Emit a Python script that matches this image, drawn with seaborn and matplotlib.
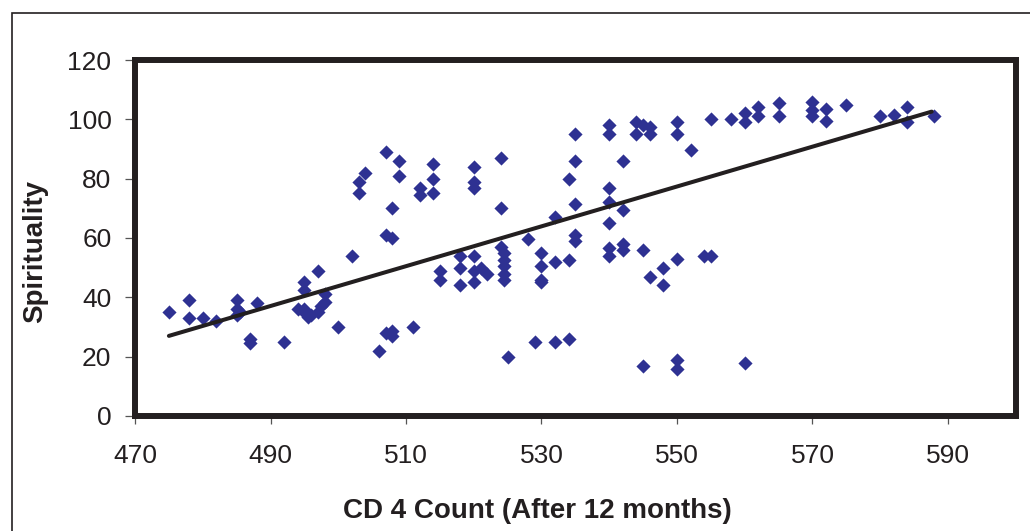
import matplotlib
matplotlib.use("Agg")
import matplotlib.pyplot as plt
import matplotlib.patches as mpatches
import seaborn as sns
import pandas as pd

# values
cd4 = [475, 478, 478, 480, 482, 485, 485, 485.5, 485, 487, 487, 488, 492,
       495, 495, 495, 497, 498, 498, 497.5, 497, 496, 495, 494, 495.5, 500,
       502, 507, 508, 506, 507, 508, 508, 511,
       507, 509, 509, 504, 503, 503, 508, 512, 512, 514, 514, 514,
       520, 520, 520, 524, 524, 528, 532, 534, 535, 535, 535, 535, 535,
       540, 540, 540, 540, 540, 542, 542, 544, 544, 545, 546, 546,
       550, 550, 552, 555,
       515, 515, 518, 518, 518, 520, 520, 520, 521, 522, 524,
       524.5, 524.5, 524.5, 524.5, 524.5, 525, 529, 530, 530, 530, 530,
       532, 532, 534, 534, 540, 540, 542, 542, 545, 545, 546, 548, 548,
       550, 550, 550, 554, 555,
       558, 560, 560, 562, 562, 565, 565, 570, 570, 570, 572, 572, 575,
       580, 582, 584, 584, 588, 560]
spirituality = [35, 39, 33, 33, 32, 39, 36, 35, 34, 26, 24.5, 38, 25,
                45, 42.5, 36, 49, 41, 38.5, 37, 35, 34, 35, 36, 33.5, 30,
                54, 61, 60, 22, 28, 28.5, 27, 30,
                89, 86, 81, 82, 79, 75, 70, 77, 74.5, 85, 80, 75,
                84, 79, 77, 87, 70, 59.5, 67, 80, 95, 86, 71.5, 61, 59,
                98, 95, 77, 72, 65, 86, 69.5, 99, 95, 98, 97.5, 95,
                99, 95, 89.5, 100,
                49, 46, 54, 50, 44, 54, 49, 45, 50, 48, 57,
                55, 52.5, 50.5, 48, 46, 20, 25, 55, 50.5, 46, 45,
                52, 25, 52.5, 26, 56.5, 54, 58, 56, 56, 17, 47, 50, 44,
                53, 19, 16, 54, 54,
                100, 102, 99, 104, 101, 105.5, 101, 106, 103, 101, 103.5, 99.5, 105,
                101, 101.5, 104, 99, 101, 18]

# linear trend line as drawn in the reference
trend_x = [475, 587.6]
trend_y = [27.0, 102.6]

df = pd.DataFrame({"cd4": cd4, "spirituality": spirituality})
trend = pd.DataFrame({"cd4": trend_x, "spirituality": trend_y})

sns.set_style("white")
plt.rcParams["font.family"] = ["Liberation Sans", "DejaVu Sans"]

ink = "#231f20"
blue = "#2E3192"

fig = plt.figure(figsize=(10.3, 5.31), dpi=100)
ax = fig.add_axes([0.1311, 0.2166, 0.855, 0.6704])

sns.scatterplot(data=df, x="cd4", y="spirituality", ax=ax, marker="D",
                s=52, color=blue, linewidth=0)
sns.lineplot(data=trend, x="cd4", y="spirituality", ax=ax, color=ink, lw=2.9)

ax.set_xlim(470, 600)
ax.set_ylim(0, 120)
ax.set_xticks([470, 490, 510, 530, 550, 570, 590])
ax.set_yticks([0, 20, 40, 60, 80, 100, 120])

for s in ax.spines.values():
    s.set_visible(True)
    s.set_linewidth(4.3)
    s.set_color(ink)

ax.tick_params(axis="x", direction="out", length=6, width=0.9, color="#555555",
               labelsize=19, labelcolor=ink, pad=14, bottom=True)
ax.tick_params(axis="y", direction="out", length=7, width=0.9, color="#555555",
               labelsize=19, labelcolor=ink, pad=10, left=True)

ax.set_xlabel("CD 4 Count (After 12 months)", fontsize=20, fontweight="bold", color=ink)
ax.set_ylabel("Spirituality", fontsize=20, fontweight="bold", color=ink)
ax.xaxis.set_label_coords(0.457, -0.267)
ax.xaxis.label.set_va("center")
ax.yaxis.set_label_coords(-0.113, 0.461)
ax.yaxis.label.set_va("center")

# outer chart border (only left and top edges are inside the picture)
fig.patches.append(mpatches.Rectangle((12 / 1030, -0.5), 2, 1 - 13 / 531 + 0.5,
                                      transform=fig.transFigure, fill=False,
                                      edgecolor=ink, linewidth=1.2))

fig.savefig("out.png", dpi=100)
